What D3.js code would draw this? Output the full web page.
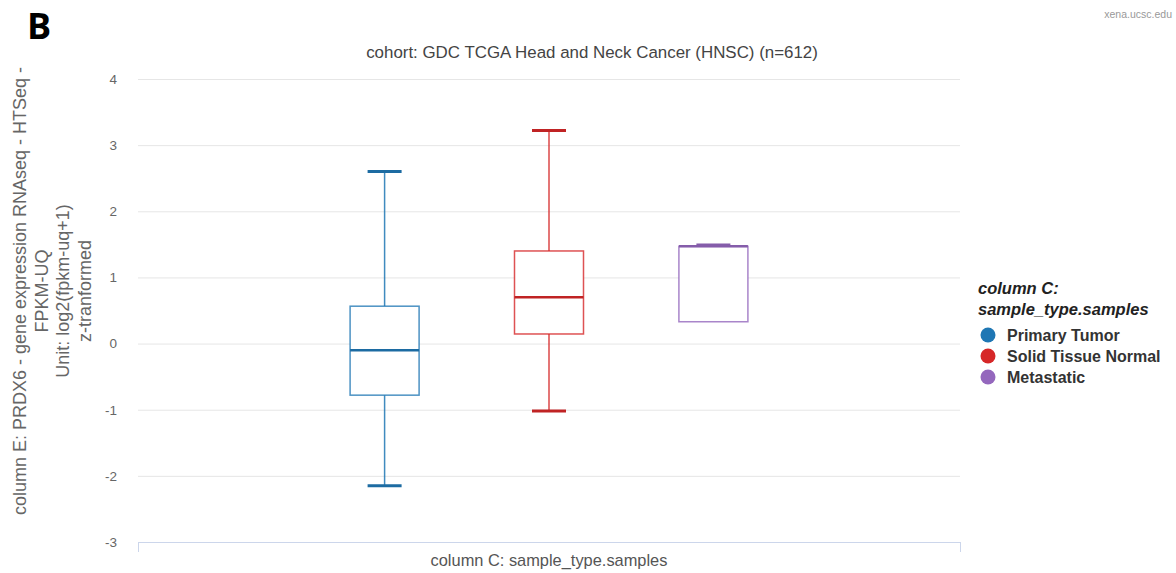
<!DOCTYPE html>
<html>
<head>
<meta charset="utf-8">
<script src="https://cdn.jsdelivr.net/npm/d3@7"></script>
<style>
  body { margin: 0; background: #fff; }
  svg { font-family: "Liberation Sans", Arial, sans-serif; }
</style>
</head>
<body>
<div id="container"></div>
<script>
/* DATA */
const categories = ["Primary Tumor", "Solid Tissue Normal", "Metastatic"]
const lowValues = [-2.15, -1.02, 0.33]
const q1Values = [-0.78, 0.145, 0.33]
const medianValues = [-0.10, 0.70, 1.47]
const q3Values = [0.565, 1.40, 1.47]
const highValues = [2.6, 3.22, 1.49]
const yTicks = [-3, -2, -1, 0, 1, 2, 3, 4]
const colors = ["#1f77b4", "#d62728", "#9467bd"]

const yTitleLines = [
  "column E: PRDX6 - gene expression RNAseq - HTSeq -",
  "FPKM-UQ",
  "Unit: log2(fpkm-uq+1)",
  "z-tranformed"
]

/* CONSTANTS */
const width = 1176,
  height = 573,
  plot = { left: 138, right: 960, top: 79, bottom: 542 }

const boxes = categories.map((c, i) => ({
  cat: c, low: lowValues[i], q1: q1Values[i], med: medianValues[i],
  q3: q3Values[i], high: highValues[i], color: colors[i]
}))

const svg = d3.select("#container")
  .append("svg")
  .attr("width", width)
  .attr("height", height)

const yScale = d3.scaleLinear()
  .domain([-3, 4])
  .range([plot.bottom, plot.top])

const xScale = d3.scalePoint()
  .domain(categories)
  .range([plot.left, plot.right])
  .padding(1.5)

// gridlines + tick labels
const yAxis = svg.append("g")
  .attr("transform", `translate(${plot.left},0)`)
  .call(d3.axisLeft(yScale).tickValues(yTicks).tickFormat(d => String(d))
    .tickSize(-(plot.right - plot.left)).tickPadding(21))
yAxis.select(".domain").remove()
yAxis.selectAll(".tick line").attr("stroke", "#e6e6e6")
yAxis.selectAll(".tick text")
  .attr("fill", "#666")
  .attr("font-size", 13.5)
  .attr("font-family", "Liberation Sans, Arial, sans-serif")
yAxis.selectAll(".tick").filter(d => d === -3).select("line").remove()

// x axis baseline with end ticks
const xAxis = svg.append("g")
  .attr("transform", `translate(0,${plot.bottom})`)
  .call(d3.axisBottom(d3.scaleLinear().domain([0, 1]).range([plot.left, plot.right]))
    .tickValues([0, 1]).tickSize(10).tickFormat(""))
xAxis.select(".domain").attr("stroke", "#ccd6eb").attr("d", `M${plot.left},0.5H${plot.right}`)
xAxis.selectAll(".tick line").attr("stroke", "#ccd6eb")

// boxes
const bw = 69, cw = 34
const g = svg.selectAll("g.box")
  .data(boxes)
  .join("g")
  .attr("class", "box")

g.append("line")
  .attr("x1", d => xScale(d.cat)).attr("x2", d => xScale(d.cat))
  .attr("y1", d => yScale(d.high)).attr("y2", d => yScale(d.q3))
  .attr("stroke", d => d.color).attr("stroke-width", 1.5).attr("opacity", 0.85)
g.append("line")
  .attr("x1", d => xScale(d.cat)).attr("x2", d => xScale(d.cat))
  .attr("y1", d => yScale(d.q1)).attr("y2", d => yScale(d.low))
  .attr("stroke", d => d.color).attr("stroke-width", 1.5).attr("opacity", 0.85)
g.append("rect")
  .attr("x", d => xScale(d.cat) - bw / 2)
  .attr("y", d => yScale(d.q3))
  .attr("width", bw)
  .attr("height", d => yScale(d.q1) - yScale(d.q3))
  .attr("fill", "#fff")
  .attr("stroke", d => d.color).attr("stroke-width", 1.5).attr("stroke-opacity", 0.8)
g.append("line")
  .attr("x1", d => xScale(d.cat) - bw / 2).attr("x2", d => xScale(d.cat) + bw / 2)
  .attr("y1", d => yScale(d.med)).attr("y2", d => yScale(d.med))
  .attr("stroke", d => d3.color(d.color).darker(0.3)).attr("stroke-width", 2.5)
g.append("line")
  .attr("x1", d => xScale(d.cat) - cw / 2).attr("x2", d => xScale(d.cat) + cw / 2)
  .attr("y1", d => yScale(d.high)).attr("y2", d => yScale(d.high))
  .attr("stroke", d => d3.color(d.color).darker(0.3)).attr("stroke-width", 3)
g.filter(d => d.low < d.q1).append("line")
  .attr("x1", d => xScale(d.cat) - cw / 2).attr("x2", d => xScale(d.cat) + cw / 2)
  .attr("y1", d => yScale(d.low)).attr("y2", d => yScale(d.low))
  .attr("stroke", d => d3.color(d.color).darker(0.3)).attr("stroke-width", 3)

// titles
svg.append("text")
  .attr("x", 592).attr("y", 58)
  .attr("text-anchor", "middle")
  .attr("font-size", 16.9).attr("fill", "#444")
  .text("cohort: GDC TCGA Head and Neck Cancer (HNSC) (n=612)")

svg.append("text")
  .attr("x", (plot.left + plot.right) / 2).attr("y", 566)
  .attr("text-anchor", "middle")
  .attr("font-size", 16.4).attr("fill", "#555")
  .text("column C: sample_type.samples")

svg.append("text")
  .attr("text-anchor", "middle")
  .attr("transform", "translate(0,291) rotate(-90)")
  .attr("font-size", 18).attr("fill", "#666")
  .selectAll("tspan")
  .data(yTitleLines)
  .join("tspan")
  .attr("x", 0)
  .attr("y", (d, i) => 26 + i * 21.5)
  .text(d => d)

// panel letter + credit
svg.append("text")
  .attr("x", 27).attr("y", 39)
  .attr("font-size", 36).attr("font-weight", "bold")
  .attr("font-family", "Open Sans, Liberation Sans, sans-serif")
  .attr("fill", "#000")
  .text("B")

svg.append("text")
  .attr("x", 1172).attr("y", 18)
  .attr("text-anchor", "end")
  .attr("font-size", 10.5).attr("fill", "#999")
  .text("xena.ucsc.edu")

// legend
const legend = svg.append("g").attr("transform", "translate(978,0)")
legend.append("text")
  .attr("font-size", 16.5).attr("font-weight", "bold").attr("font-style", "italic").attr("fill", "#222")
  .selectAll("tspan")
  .data(["column C:", "sample_type.samples"])
  .join("tspan")
  .attr("x", 0)
  .attr("y", (d, i) => 294 + i * 21)
  .text(d => d)

const items = legend.selectAll("g.item")
  .data(categories)
  .join("g")
  .attr("class", "item")
  .attr("transform", (d, i) => `translate(0,${335 + i * 21})`)
items.append("circle")
  .attr("cx", 10).attr("cy", 0).attr("r", 7.5)
  .attr("fill", (d, i) => colors[i])
items.append("text")
  .attr("x", 29).attr("y", 5.5)
  .attr("font-size", 16).attr("font-weight", "bold").attr("fill", "#333")
  .text(d => d)
</script>
</body>
</html>
